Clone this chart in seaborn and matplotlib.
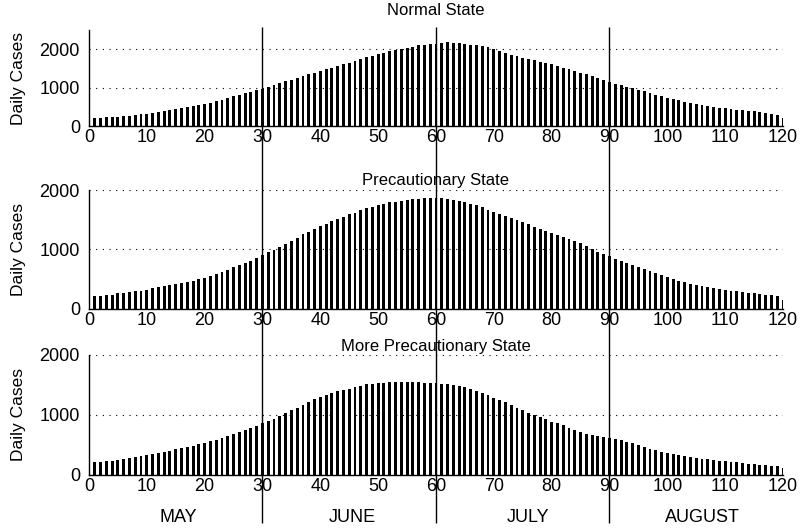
import pandas as pd
import matplotlib
matplotlib.use('Agg')
import matplotlib.pyplot as plt
import matplotlib.transforms as mtransforms
import seaborn as sns

# daily cases, day 1..120
days = list(range(1, 121))

normal_state = [
    200, 210, 225, 235, 240, 255, 265, 285, 300, 320,
    340, 360, 385, 410, 440, 465, 490, 515, 545, 575,
    610, 645, 685, 725, 770, 810, 850, 890, 930, 970,
    1020, 1070, 1120, 1165, 1210, 1255, 1300, 1345, 1390, 1430,
    1475, 1520, 1565, 1610, 1650, 1700, 1745, 1790, 1830, 1870,
    1910, 1950, 1985, 2015, 2040, 2070, 2100, 2120, 2130, 2140,
    2160, 2175, 2170, 2160, 2140, 2120, 2100, 2080, 2050, 2010,
    1960, 1910, 1860, 1815, 1780, 1740, 1710, 1675, 1640, 1605,
    1565, 1520, 1475, 1430, 1390, 1345, 1300, 1250, 1195, 1140,
    1100, 1060, 1020, 985, 950, 905, 860, 815, 770, 730,
    700, 670, 635, 600, 570, 545, 520, 500, 480, 465,
    445, 425, 410, 395, 380, 365, 345, 320, 295, 220]

precautionary_state = [
    210, 215, 225, 235, 255, 260, 275, 290, 300, 320,
    340, 360, 375, 395, 420, 435, 455, 470, 490, 510,
    550, 580, 610, 650, 700, 735, 770, 810, 860, 910,
    950, 990, 1040, 1090, 1140, 1190, 1250, 1300, 1350, 1400,
    1430, 1470, 1510, 1550, 1590, 1620, 1660, 1690, 1720, 1750,
    1770, 1790, 1800, 1820, 1830, 1845, 1850, 1860, 1860, 1860,
    1860, 1855, 1840, 1820, 1800, 1770, 1740, 1710, 1670, 1630,
    1590, 1560, 1520, 1490, 1460, 1420, 1380, 1350, 1310, 1270,
    1240, 1200, 1170, 1140, 1100, 1050, 1000, 960, 920, 880,
    840, 800, 770, 740, 705, 670, 635, 600, 560, 525,
    500, 470, 440, 420, 400, 380, 365, 350, 335, 320,
    300, 290, 275, 260, 255, 240, 230, 220, 210, 140]

more_precautionary_state = [
    210, 215, 230, 240, 255, 265, 280, 300, 315, 330,
    350, 365, 385, 405, 430, 450, 470, 490, 515, 540,
    565, 590, 620, 650, 680, 710, 745, 780, 820, 860,
    900, 940, 980, 1030, 1080, 1120, 1170, 1220, 1260, 1300,
    1340, 1370, 1400, 1420, 1440, 1470, 1490, 1510, 1520, 1530,
    1540, 1545, 1545, 1545, 1545, 1545, 1545, 1540, 1535, 1530,
    1520, 1510, 1500, 1480, 1460, 1430, 1400, 1370, 1330, 1290,
    1250, 1210, 1170, 1120, 1080, 1040, 1000, 960, 925, 890,
    860, 830, 790, 750, 720, 690, 665, 645, 630, 620,
    600, 575, 555, 535, 500, 470, 440, 415, 390, 370,
    350, 335, 320, 305, 280, 270, 260, 250, 240, 235,
    220, 210, 200, 190, 180, 170, 160, 150, 145, 120]

panel_titles = ['Normal State', 'Precautionary State', 'More Precautionary State']
panel_ytop = [2500, 2000, 2000]
month_names = ['MAY', 'JUNE', 'JULY', 'AUGUST']
month_centers = [15.5, 45.5, 76, 106]
month_bounds = [30, 60, 90]
xticks = list(range(0, 121, 10))
yticks = [0, 1000, 2000]

sns.set_theme(style='white')
plt.rcParams['font.family'] = ['Liberation Sans', 'DejaVu Sans']

fig = plt.figure(figsize=(8.03, 5.31), dpi=100, facecolor='white')

# [left, bottom, width, height] of each panel, figure fractions
rects = [[0.1108, 0.7627, 0.8643, 0.1808],
         [0.1108, 0.4190, 0.8643, 0.2231],
         [0.1108, 0.1055, 0.8643, 0.2260]]
title_y = [0.981, 0.661, 0.348]
series = [normal_state, precautionary_state, more_precautionary_state]

axes = []
for rect, vals, title, ytop, ty in zip(rects, series, panel_titles, panel_ytop, title_y):
    ax = fig.add_axes(rect)
    ax.set_facecolor('none')
    df = pd.DataFrame({'day': days, 'cases': vals})
    sns.barplot(data=df, x='day', y='cases', native_scale=True, width=0.5,
                color='black', saturation=1, linewidth=0, ax=ax)

    ax.set_xticks(xticks)
    ax.set_yticks(yticks)
    ax.set_xlim(0, 120)
    ax.set_ylim(0, ytop)
    ax.set_xlabel('')
    ax.set_ylabel('Daily Cases', fontsize=12.5, color='black')
    ax.yaxis.set_label_coords(-0.0908, 0.5)

    ax.grid(axis='y', color='black', linestyle=(0, (1, 5)), linewidth=0.8)
    ax.grid(axis='x', visible=False)
    sns.despine(ax=ax)
    for side in ['left', 'bottom']:
        ax.spines[side].set_color('black')
        ax.spines[side].set_linewidth(1)
    ax.tick_params(axis='both', direction='in', length=3, width=0.8,
                   colors='black', labelsize=13)
    ax.tick_params(axis='x', pad=2.5)
    ax.tick_params(axis='y', pad=6.5)

    fig.text(rect[0] + rect[2] / 2, ty, title, ha='center', va='center',
             fontsize=12, color='black')
    axes.append(ax)

# month boundaries running through all three panels
trans = mtransforms.blended_transform_factory(axes[0].transData, fig.transFigure)
axes[0].vlines(month_bounds, 0.015, 0.949, transform=trans, colors='black',
               linewidth=1, clip_on=False)
axes[0].set_xlim(0, 120)
axes[0].set_ylim(0, panel_ytop[0])

trans3 = mtransforms.blended_transform_factory(axes[2].transData, fig.transFigure)
for name, pos in zip(month_names, month_centers):
    axes[2].text(pos, 0.026, name, transform=trans3, ha='center', va='center',
                 fontsize=13, color='black')

fig.savefig('out.png', dpi=100, facecolor='white')
